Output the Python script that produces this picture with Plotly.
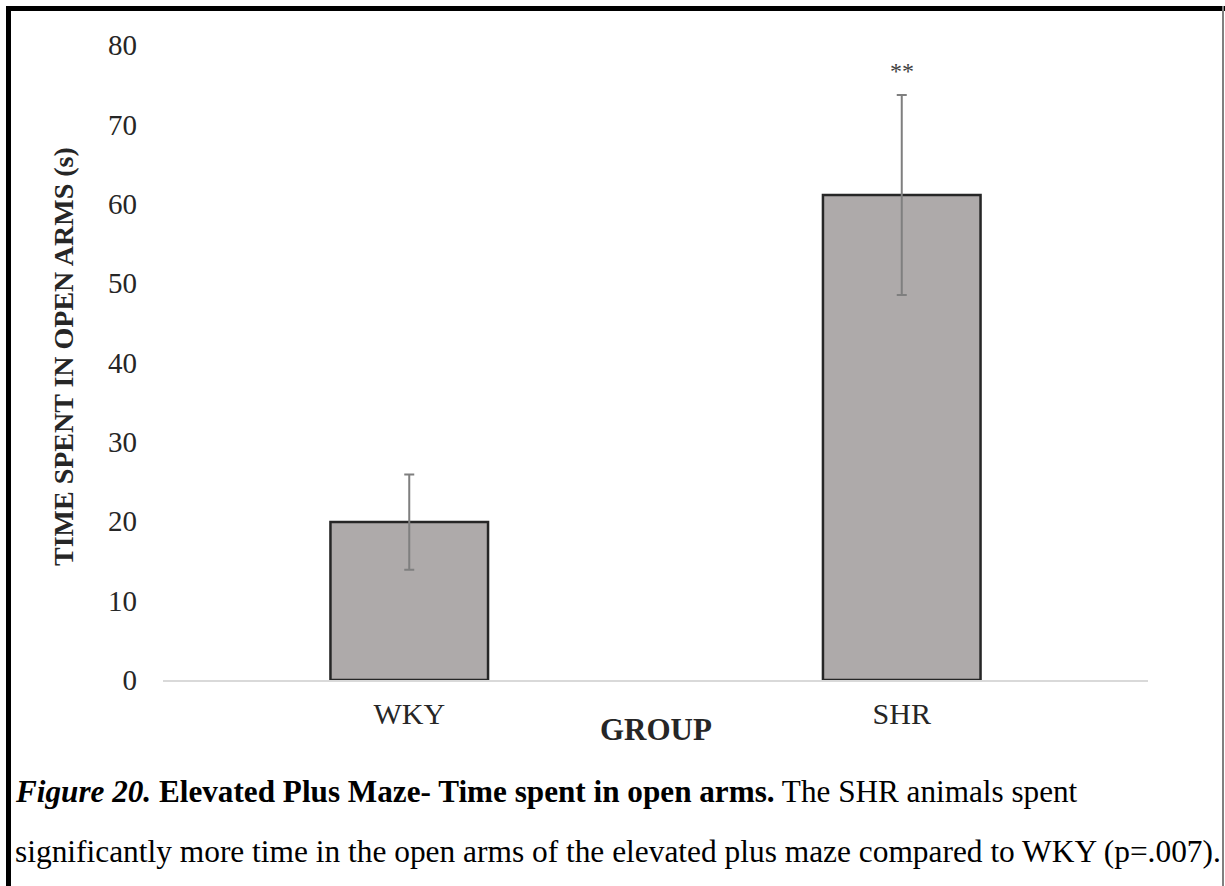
import plotly.graph_objects as go

groups = ["WKY", "SHR"]
means = [19.9, 61.1]
errors = [6.0, 12.6]
sig_labels = ["", "**"]
y_ticks = [0, 10, 20, 30, 40, 50, 60, 70, 80]

W, H = 1225, 886
L, R, T, B = 163, 1148, 45, 680

def px(x):
    return (x - L) / (R - L)

def py(y):
    return (B - y) / (B - T)

FONT = "Liberation Serif, Times New Roman, serif"

fig = go.Figure()
fig.add_trace(go.Bar(
    x=groups, y=means, width=0.32,
    marker=dict(color="#AEAAAA", line=dict(color="#262626", width=2.5)),
    error_y=dict(type="data", array=errors, visible=True,
                 color="#7F7F7F", thickness=2, width=5),
    showlegend=False, hoverinfo="skip",
))

for g, m, e, s in zip(groups, means, errors, sig_labels):
    if s:
        fig.add_annotation(x=g, y=m + e, yref="y", xref="x", text=s,
                           showarrow=False, yanchor="bottom", yshift=9,
                           font=dict(family=FONT, size=24, color="#404040"))

fig.update_xaxes(range=[-0.5, 1.5], showline=True, linecolor="#D9D9D9",
                 linewidth=2, showgrid=False, zeroline=False,
                 tickfont=dict(family=FONT, size=30, color="#262626"),
                 ticks="", ticklabelstandoff=6)
fig.update_yaxes(range=[0, 80], tickvals=y_ticks, showline=False,
                 showgrid=False, zeroline=False,
                 tickfont=dict(family=FONT, size=29, color="#262626"),
                 ticks="", ticklabelstandoff=25)

# y-axis title
fig.add_annotation(xref="paper", yref="paper", x=px(63), y=py(357),
                   text="<b>TIME SPENT IN OPEN ARMS (s)</b>", textangle=-90,
                   showarrow=False, xanchor="center", yanchor="middle",
                   font=dict(family=FONT, size=28, color="#262626"))

# x-axis title
fig.add_annotation(xref="paper", yref="paper", x=px(656), y=py(729),
                   text="<b>GROUP</b>", showarrow=False,
                   font=dict(family=FONT, size=31, color="#262626"),
                   xanchor="center", yanchor="middle")

# caption
fig.add_annotation(xref="paper", yref="paper", x=px(13), y=py(791),
                   text="<b><i>Figure 20.</i></b><b> Elevated Plus Maze- Time spent in open arms.</b> The SHR animals spent",
                   showarrow=False, xanchor="left", yanchor="middle",
                   font=dict(family=FONT, size=31.2, color="#000000"))
fig.add_annotation(xref="paper", yref="paper", x=px(13), y=py(851),
                   text="significantly more time in the open arms of the elevated plus maze compared to WKY (p=.007).",
                   showarrow=False, xanchor="left", yanchor="middle",
                   font=dict(family=FONT, size=31.4, color="#000000"))

# frame
fig.add_shape(type="line", xref="paper", yref="paper", x0=px(8.5), x1=px(8.5),
              y0=py(6), y1=py(886), line=dict(color="#000000", width=5))
fig.add_shape(type="line", xref="paper", yref="paper", x0=px(6), x1=px(1225),
              y0=py(8.5), y1=py(8.5), line=dict(color="#000000", width=5))
fig.add_shape(type="line", xref="paper", yref="paper", x0=px(1223), x1=px(1223),
              y0=py(6), y1=py(886), line=dict(color="#808080", width=2))

fig.update_layout(width=W, height=H,
                  margin=dict(l=L, r=W - R, t=T, b=H - B, autoexpand=False),
                  paper_bgcolor="white", plot_bgcolor="white")

fig.write_html("out.html", config={"displayModeBar": False},
               post_script="document.body.style.margin='0px';")
